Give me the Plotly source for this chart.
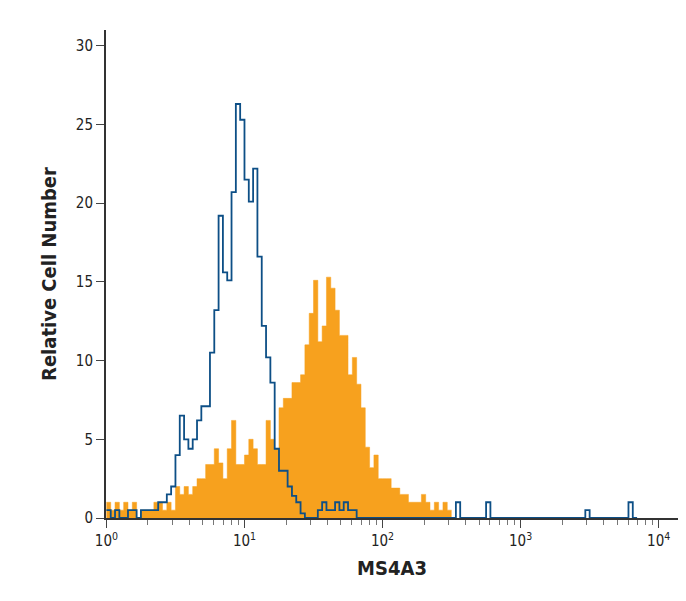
import plotly.graph_objects as go

bins_per_decade = 32
isotype = [0.5,0,0.5,0,0,0.5,0.5,0,0.5,0.5,0.5,0.5,1,1,1.5,2,4,6.5,5,4.4,5,6.2,7.1,7.1,10.5,13.2,19.2,15.6,15.1,20.7,
           26.3,25.3,21.5,20.1,22.2,16.6,12.2,10.2,8.6,4.4,3,3,2,1.4,1,0.3,0,0,0,0.5,1,0.5,0.5,1,0.5,1,0.5,0.5,0,0,
           0,0,0,0,0,0,0,0,0,0,0,0,0,0,0,0,0,0,0,0,0,1,0,0,0,0,0,0,1,0,0,0,0,0,0,0,0,0,0,0,
           0,0,0,0,0,0,0,0,0,0,0,0.5,0,0,0,0,0,0,0,0,0,1,0]
ms4a3 = [1,0.5,1,0.5,1,0.5,1,0,0.5,0.5,0.5,1,1,0.5,1,0.5,2,1.5,2,1.5,2,2.5,2.5,3.4,3.4,4.4,3.5,2.5,4.4,6.2,
         3.4,3.4,4,5,4.4,3.4,3.4,6.2,5,4.4,7,7.6,7.6,8.6,8.6,9.1,11,13,15.1,11.2,12.2,15.3,14.6,13.2,11.6,11.6,9.1,10.2,8.5,7,
         4.5,3.2,4,2.5,2.5,2.5,1.9,1.9,1.5,1.5,1,1,1,1.5,1,0.5,1,0.5,1,0.5]
tick_vals = [1, 10, 100, 1000, 10000]
tick_text = ["10<sup>0</sup>", "10<sup>1</sup>", "10<sup>2</sup>", "10<sup>3</sup>", "10<sup>4</sup>"]
minor_vals = [m * 10 ** d for d in range(4) for m in range(2, 10)]

def steps(vals):
    xs = [10 ** (i / bins_per_decade) for i in range(len(vals) + 1)]
    return xs, list(vals) + [vals[-1]]

fig = go.Figure()
xo, yo = steps(ms4a3)
fig.add_trace(go.Scatter(x=xo, y=yo, mode="lines", line=dict(shape="hv", color="#f7a11e", width=0.5),
                         fill="tozeroy", fillcolor="#f7a11e", hoverinfo="skip"))
xb, yb = steps(isotype)
fig.add_trace(go.Scatter(x=xb, y=yb, mode="lines", line=dict(shape="hv", color="#0d4f86", width=1.8),
                         hoverinfo="skip"))

font_title = dict(family="DejaVu Sans Condensed, Liberation Sans Narrow, Arial", size=20, color="#222")
tick_font = dict(family="DejaVu Sans Condensed, Liberation Sans Narrow, Arial", size=15, color="#222")
fig.update_layout(
    width=686, height=601, showlegend=False, plot_bgcolor="white", paper_bgcolor="white",
    margin=dict(l=98, r=16, t=22, b=91, autoexpand=False),
    xaxis=dict(type="log", range=[-0.003, 4.14], tickvals=tick_vals, ticktext=tick_text, automargin=False,
               ticks="outside", ticklen=8, tickcolor="#444", showline=True, linecolor="#333", linewidth=2,
               showgrid=False, zeroline=False,
               minor=dict(tickvals=minor_vals, ticks="outside", ticklen=5, tickcolor="#777", showgrid=False),
               tickfont=tick_font,
               title=dict(text="<b>MS4A3</b>", font=font_title, standoff=12)),
    yaxis=dict(range=[0, 31], tickvals=[0, 5, 10, 15, 20, 25, 30], ticks="outside", ticklen=8, tickcolor="#444",
               showline=True, linecolor="#333", linewidth=2, showgrid=False, zeroline=False, automargin=False,
               tickfont=tick_font,
               title=dict(text="<b>Relative Cell Number</b>", font=font_title, standoff=14)),
)
fig.write_html("out.html")
